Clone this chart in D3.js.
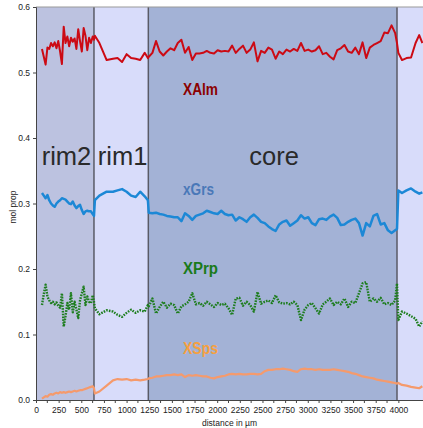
<!DOCTYPE html>
<html><head><meta charset="utf-8">
<script src="https://cdn.jsdelivr.net/npm/d3@7/dist/d3.min.js"></script>
<style>body{margin:0;background:#fff}svg{display:block}text{font-family:"Liberation Sans",Arial,sans-serif}</style>
</head><body><svg id="c" width="423" height="428"></svg>
<script>
const distance = [66,86,106,126,146,166,186,206,226,246,266,286,306,326,346,366,386,406,426,446,466,486,506,526,546,566,586,606,626,640,
650,700,780,850,900,950,1000,1050,1100,1150,1200,1235,
1245,1285,1325,1365,1405,1445,1485,1525,1565,1605,1645,1685,1725,1765,1805,1845,1885,1925,1965,2005,2045,2085,2125,2165,2205,2245,2285,2325,2365,2405,2445,2485,2525,2565,2605,2645,2685,2725,2765,2805,2845,2885,2925,2965,3005,3045,3085,3125,3165,3205,3245,3285,3325,3365,3405,3445,3485,3525,3565,3605,3645,3685,3725,3765,3805,3845,3885,3925,3965,3985,
4000,4040,4090,4140,4190,4230,4265];
const XAlm = [0.536,0.524,0.512,0.538,0.536,0.545,0.540,0.546,0.537,0.548,0.532,0.513,0.570,0.545,0.555,0.540,0.553,0.547,0.552,0.536,0.566,0.548,0.532,0.568,0.556,0.534,0.553,0.545,0.555,0.550,
0.556,0.545,0.519,0.521,0.522,0.516,0.528,0.522,0.521,0.519,0.530,0.522,
0.524,0.530,0.548,0.532,0.526,0.532,0.537,0.534,0.545,0.550,0.530,0.539,0.519,0.529,0.529,0.530,0.533,0.530,0.529,0.534,
0.532,0.533,0.532,0.541,0.530,0.536,0.541,0.530,0.535,0.546,0.517,0.533,0.530,0.538,0.535,0.521,0.532,0.528,0.535,0.532,
0.536,0.533,0.545,0.533,0.535,0.532,0.534,0.540,0.528,0.530,0.524,0.520,0.534,0.537,0.542,0.532,0.530,0.538,0.528,0.546,
0.522,0.538,0.542,0.545,0.548,0.561,0.560,0.572,0.560,0.545,
0.530,0.519,0.522,0.523,0.545,0.557,0.545];
const xGrs = [0.316,0.312,0.308,0.313,0.305,0.300,0.297,0.295,0.300,0.303,0.305,0.308,0.307,0.306,0.303,0.300,0.299,0.303,0.297,0.293,0.296,0.298,0.290,0.284,0.288,0.289,0.288,0.288,0.284,0.281,
0.305,0.312,0.318,0.318,0.320,0.322,0.318,0.312,0.310,0.318,0.311,0.305,
0.286,0.285,0.286,0.284,0.283,0.281,0.280,0.279,0.279,0.273,0.285,0.281,0.275,0.281,0.283,0.285,0.289,0.287,0.285,0.284,
0.289,0.284,0.282,0.283,0.274,0.279,0.276,0.272,0.279,0.283,0.278,0.272,0.270,0.265,0.261,0.258,0.268,0.272,0.274,0.266,
0.270,0.274,0.282,0.277,0.279,0.270,0.267,0.276,0.277,0.275,0.280,0.283,0.278,0.267,0.268,0.272,0.275,0.277,0.270,0.251,
0.270,0.265,0.281,0.284,0.268,0.270,0.259,0.255,0.259,0.261,
0.320,0.316,0.320,0.323,0.318,0.315,0.317];
const XPrp = [0.145,0.162,0.176,0.158,0.152,0.148,0.150,0.146,0.149,0.144,0.141,0.163,0.112,0.128,0.148,0.138,0.163,0.134,0.150,0.138,0.125,0.152,0.163,0.173,0.145,0.158,0.150,0.148,0.160,0.150,
0.140,0.131,0.137,0.135,0.130,0.127,0.133,0.138,0.133,0.137,0.135,0.145,
0.143,0.155,0.132,0.142,0.150,0.141,0.147,0.145,0.132,0.143,0.146,0.150,0.163,0.146,0.148,0.144,0.150,0.146,0.142,0.148,
0.145,0.147,0.140,0.130,0.155,0.156,0.144,0.150,0.145,0.135,0.165,0.147,0.150,0.152,0.148,0.160,0.149,0.147,0.148,0.146,
0.150,0.145,0.122,0.138,0.145,0.148,0.140,0.132,0.146,0.150,0.155,0.145,0.150,0.146,0.155,0.142,0.150,0.148,0.163,0.178,
0.180,0.150,0.155,0.150,0.156,0.146,0.148,0.145,0.152,0.178,
0.122,0.135,0.132,0.128,0.124,0.112,0.120];
const XSps = [0.002,0.004,0.006,0.005,0.008,0.009,0.008,0.010,0.011,0.010,0.012,0.011,0.012,0.011,0.012,0.013,0.012,0.013,0.014,0.013,0.014,0.015,0.015,0.016,0.017,0.018,0.019,0.020,0.021,0.018,
0.010,0.013,0.022,0.030,0.032,0.031,0.032,0.030,0.031,0.030,0.031,0.032,
0.033,0.034,0.036,0.036,0.037,0.038,0.038,0.039,0.038,0.039,0.035,0.038,0.037,0.038,0.037,0.036,0.036,0.034,0.033,0.035,
0.036,0.037,0.039,0.040,0.039,0.040,0.039,0.039,0.040,0.040,0.039,0.040,0.044,0.046,0.046,0.047,0.047,0.048,0.047,0.046,
0.044,0.043,0.047,0.048,0.047,0.047,0.046,0.047,0.046,0.046,0.046,0.047,0.046,0.045,0.044,0.043,0.041,0.040,0.038,0.036,
0.035,0.034,0.033,0.031,0.030,0.029,0.028,0.027,0.026,0.025,
0.026,0.023,0.022,0.020,0.019,0.018,0.021];
const regionNames = ["rim2","rim1","core",""];
const regionEdges = [0,640,1240,3985,4272];
const xTickValues = [0,250,500,750,1000,1250,1500,1750,2000,2250,2500,2750,3000,3250,3500,3750,4000];
const yTickValues = [0,0.1,0.2,0.3,0.4,0.5,0.6];
const seriesNames = ["XAlm","xGrs","XPrp","XSps"];
const seriesLabelY = [0.466,0.313,0.192,0.070];

const svg = d3.select("#c");
const L=36, R=423, T=7, B=400;
const x = d3.scaleLinear().domain([0,4272]).range([L,R]);
const y = d3.scaleLinear().domain([0,0.6]).range([B,T]);
const bg = ["#bcc2e0","#d8dcfa","#a3b2d6","#d8dcfa"];
svg.append("defs").append("clipPath").attr("id","clip").append("rect").attr("x",L).attr("y",T).attr("width",R-L).attr("height",B-T);
const g = svg.append("g");
regionNames.forEach((n,i)=>{
  g.append("rect").attr("x",x(regionEdges[i])).attr("y",T).attr("width",x(regionEdges[i+1])-x(regionEdges[i])).attr("height",B-T).attr("fill",bg[i]);
});
regionEdges.slice(1,4).forEach(e=>{
  g.append("line").attr("x1",x(e)).attr("x2",x(e)).attr("y1",T).attr("y2",B).attr("stroke","#5a5a66").attr("stroke-width",1.5);
});
regionNames.forEach((n,i)=>{
  if(!n) return;
  g.append("text").attr("x",x((regionEdges[i]+regionEdges[i+1])/2)+1.5).attr("y",y(0.359)).attr("text-anchor","middle").attr("font-size",25.5).attr("fill","#2a2a2a").text(n);
});
const series = [XAlm,xGrs,XPrp,XSps];
const lineCol = ["#cc0a14","#1c88d6","#1d7d1d","#f59a6c"];
const lineW = [2,2.5,2.4,2.2];
series.forEach((s,i)=>{
  const line = d3.line().x((d,j)=>x(distance[j])).y(d=>y(d));
  const p = g.append("path").datum(s).attr("d",line).attr("fill","none").attr("stroke",lineCol[i]).attr("stroke-width",lineW[i]).attr("stroke-linejoin","round").attr("clip-path","url(#clip)");
  if(i===2) p.attr("stroke-dasharray","1.6,1.2");
});
const labCol = ["#8b0000","#4a78b8","#1a7a1a","#f5a040"];
seriesNames.forEach((n,i)=>{
  g.append("text").attr("x",x(1623)).attr("y",y(seriesLabelY[i])).attr("font-size",16).attr("font-weight","bold").attr("fill",labCol[i]).attr("textLength",i===1?31:35).attr("lengthAdjust","spacingAndGlyphs").text(n);
});
svg.append("line").attr("x1",L).attr("x2",R).attr("y1",T).attr("y2",T).attr("stroke","#999").attr("stroke-width",1);
const xAxis = d3.axisBottom(x).tickValues(xTickValues).tickSize(3).tickFormat(d3.format("d"));
const xa = svg.append("g").attr("transform",`translate(0,${B})`).call(xAxis);
xa.select(".domain").attr("stroke","#444");
xa.selectAll(".tick line").attr("stroke","#444");
xa.selectAll("text").attr("font-size",8.5).attr("fill","#222").attr("font-family","Liberation Sans, Arial").attr("dy","0.85em");
const minor = xTickValues.slice(0,-1).map(v=>v+125);
svg.append("g").selectAll("line").data(minor).join("line").attr("x1",d=>x(d)).attr("x2",d=>x(d)).attr("y1",B).attr("y2",B+3).attr("stroke","#444");
const yAxis = d3.axisLeft(y).tickValues(yTickValues).tickSize(3).tickFormat(d3.format(".1f"));
const ya = svg.append("g").attr("transform",`translate(${L},0)`).call(yAxis);
ya.select(".domain").attr("stroke","#444");
ya.selectAll(".tick line").attr("stroke","#444");
ya.selectAll("text").attr("font-size",8.5).attr("fill","#222").attr("font-family","Liberation Sans, Arial");
svg.append("text").attr("x",(L+R)/2).attr("y",426).attr("text-anchor","middle").attr("font-size",8.5).attr("fill","#222").text("distance in µm");
svg.append("text").attr("transform","translate(16,207) rotate(-90)").attr("text-anchor","middle").attr("font-size",8.5).attr("fill","#222").text("mol prop");
</script></body></html>
